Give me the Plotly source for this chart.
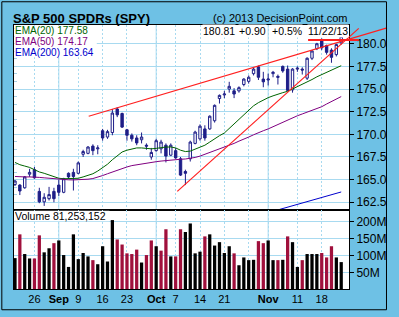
import plotly.graph_objects as go
from plotly.subplots import make_subplots

# ---------------- data ----------------
day_index = list(range(68))  # trading days 20 Aug 2013 .. 22 Nov 2013
opens = [164.45, 164.40, 164.10, 165.60, 166.10, 163.70, 162.55, 162.90, 163.70, 164.40,
         163.60, 165.70, 165.80, 165.70, 167.80, 167.90, 168.70, 168.40, 170.40, 169.70,
         170.20, 172.80, 172.30, 170.50, 169.90, 169.60, 169.40, 168.80, 167.50, 168.20,
         168.40, 168.80, 167.70, 168.20, 167.30, 165.90, 167.30, 169.00, 169.50, 170.60,
         170.60, 171.50, 173.95, 174.35, 175.00, 174.80, 174.80, 175.50, 175.85, 176.70,
         177.45, 176.10, 176.00, 176.70, 176.40, 177.50, 177.20, 174.90, 177.20, 177.20,
         176.20, 178.40, 179.45, 180.30, 179.80, 179.30, 178.80, 180.10]
highs = [165.00, 164.50, 165.40, 166.20, 166.40, 164.10, 163.50, 164.20, 164.10, 165.00,
         165.20, 165.80, 166.20, 167.00, 168.30, 168.70, 168.90, 168.80, 170.60, 170.50,
         172.80, 173.00, 172.40, 170.60, 170.10, 169.90, 170.20, 169.00, 168.50, 169.50,
         169.40, 169.00, 169.00, 168.50, 167.50, 166.10, 169.30, 170.40, 171.10, 171.00,
         172.10, 173.30, 174.40, 174.80, 175.80, 175.10, 175.30, 176.20, 176.50, 177.40,
         177.60, 176.90, 176.70, 177.00, 176.60, 177.60, 177.60, 177.30, 177.50, 177.40,
         178.50, 179.30, 180.10, 180.60, 179.90, 179.50, 180.00, 180.90]
lows = [164.30, 163.30, 164.00, 165.30, 165.10, 162.40, 162.10, 162.70, 162.50, 163.20,
        163.50, 165.10, 163.80, 165.60, 167.50, 167.80, 167.70, 167.80, 169.30, 169.50,
        169.90, 171.90, 170.70, 169.30, 169.20, 168.80, 169.00, 168.30, 167.20, 168.10,
        167.90, 166.90, 167.60, 167.30, 165.40, 164.40, 167.00, 168.90, 169.30, 169.30,
        170.50, 171.30, 173.40, 174.00, 174.60, 174.00, 174.60, 175.30, 175.60, 176.50,
        176.00, 175.20, 175.40, 176.30, 175.50, 176.80, 174.80, 174.60, 176.90, 176.60,
        176.00, 178.20, 179.30, 179.30, 178.80, 177.90, 178.60, 179.90]
closes = [164.85, 163.75, 165.30, 165.80, 165.20, 162.55, 163.05, 163.35, 162.90, 163.60,
          165.10, 165.30, 165.35, 166.85, 168.10, 168.60, 168.20, 168.50, 169.60, 170.30,
          172.35, 172.15, 170.80, 169.90, 169.50, 169.05, 169.70, 168.70, 168.00, 169.30,
          169.15, 167.60, 168.80, 167.40, 165.50, 165.70, 169.15, 170.25, 170.90, 169.60,
          172.00, 173.20, 174.30, 174.45, 175.30, 174.45, 175.15, 176.10, 176.30, 177.20,
          176.30, 175.80, 176.10, 176.85, 176.30, 177.00, 174.85, 177.20, 177.30, 177.10,
          178.40, 179.20, 180.00, 179.55, 179.05, 178.50, 179.91, 180.81]
prior_close = 164.30
volume_m = [93, 163, 105, 92, 92, 160, 110, 122, 137, 145,
            102, 67, 163, 90, 108, 98, 87, 75, 128, 83,
            205, 148, 133, 107, 105, 118, 80, 102, 145, 128,
            115, 178, 98, 98, 178, 170, 195, 107, 112, 157,
            163, 130, 140, 108, 128, 107, 72, 95, 87, 88,
            143, 137, 145, 87, 87, 88, 157, 140, 67, 87,
            105, 105, 105, 108, 95, 128, 95, 81.25]
ema20 = [166.90, 166.65, 166.50, 166.35, 166.10, 165.85, 165.70, 165.50, 165.30, 165.15,
         165.10, 165.10, 165.10, 165.15, 165.30, 165.45, 165.65, 165.95, 166.30, 166.70,
         167.20, 167.65, 168.05, 168.25, 168.40, 168.50, 168.50, 168.45, 168.40, 168.45,
         168.55, 168.60, 168.60, 168.50, 168.25, 168.10, 168.15, 168.35, 168.55, 168.80,
         169.15, 169.55, 169.85, 170.15, 170.65, 171.10, 171.60, 172.10, 172.60, 173.15,
         173.50, 173.80, 174.05, 174.25, 174.45, 174.60, 174.75, 175.00, 175.30, 175.55,
         175.80, 176.05, 176.35, 176.60, 176.85, 177.05, 177.35, 177.58]
ema50 = [165.35, 165.30, 165.30, 165.30, 165.30, 165.25, 165.20, 165.15, 165.05, 165.00,
         165.00, 164.98, 164.97, 164.97, 165.00, 165.05, 165.12, 165.25, 165.45, 165.65,
         165.85, 166.05, 166.25, 166.40, 166.55, 166.65, 166.75, 166.85, 166.90, 166.98,
         167.05, 167.12, 167.18, 167.22, 167.25, 167.28, 167.35, 167.45, 167.60, 167.80,
         167.95, 168.20, 168.40, 168.60, 168.80, 169.00, 169.25, 169.45, 169.70, 169.95,
         170.20, 170.40, 170.60, 170.85, 171.10, 171.35, 171.60, 171.85, 172.05, 172.25,
         172.45, 172.65, 172.85, 173.05, 173.35, 173.60, 173.90, 174.17]
ema200 = [None] * 50 + [161.05, 161.20, 161.36, 161.51, 161.66, 161.81, 161.95, 162.10, 162.26, 162.41,
                        162.56, 162.71, 162.87, 163.02, 163.17, 163.32, 163.48, 163.64]

x_tick_days = [4, 9, 13, 18, 23, 29, 33, 38, 43, 48, 52, 58, 63]
x_tick_text = ['26', '<b>Sep</b>', '9', '16', '23', '<b>Oct</b>', '7', '14', '21', '',
               '<b>Nov</b>', '11', '18']
month_start_days = [9, 29, 52]
price_ticks = [162.5, 165.0, 167.5, 170.0, 172.5, 175.0, 177.5, 180.0]
volume_ticks = [50, 100, 150, 200]
volume_tick_text = ['50M', '100M', '150M', '200M']
# analyst trend lines: (day index, price)
trend_upper = [(15.14, 172.00), (76.40, 181.75)]
trend_steep = [(33.34, 163.70), (70.60, 181.70)]
trend_flat = [(60.20, 180.42), (70.60, 180.42)]

# ---------------- style ----------------
BG = '#6EC1E5'
GRID = '#A8DAF0'
TICKC = '#A8D2E6'
NAVY = '#1E1E88'
RED_VOL = '#A0103C'
GREEN = '#006400'
PURPLE = '#800080'
BLUE = '#0000CC'
FONT = 'Liberation Sans, Arial, sans-serif'

X_RANGE = [-0.2, 68.6]
P_RANGE = [161.66, 182.07]
V_RANGE = [2, 235]
W, H = 399, 317
ML, MR, MT, MB = 14, 41, 25, 25
PW, PH = W - ML - MR, H - MT - MB
SPLIT = (292 - 212) / PH


def pxx(px):
    return (px - ML) / PW


def pxy(py):
    return (H - MB - py) / PH


def day_to_paper(d):
    return (d - X_RANGE[0]) / (X_RANGE[1] - X_RANGE[0])


fig = make_subplots(rows=2, cols=1, shared_xaxes=True, vertical_spacing=0)

fig.add_trace(go.Candlestick(
    x=day_index, open=opens, high=highs, low=lows, close=closes,
    increasing=dict(line=dict(color=NAVY, width=1), fillcolor='white'),
    decreasing=dict(line=dict(color=NAVY, width=1), fillcolor=NAVY),
    whiskerwidth=0, showlegend=False, hoverinfo='skip'), row=1, col=1)

fig.add_trace(go.Scatter(x=day_index, y=ema20, mode='lines',
                         line=dict(color=GREEN, width=1), showlegend=False), row=1, col=1)
fig.add_trace(go.Scatter(x=day_index, y=ema50, mode='lines',
                         line=dict(color=PURPLE, width=1), showlegend=False), row=1, col=1)
fig.add_trace(go.Scatter(x=day_index, y=ema200, mode='lines',
                         line=dict(color=BLUE, width=1), showlegend=False), row=1, col=1)

prev = [prior_close] + closes[:-1]
vol_colors = [RED_VOL if c < p else 'black' for c, p in zip(closes, prev)]
fig.add_trace(go.Bar(x=day_index, y=volume_m, marker=dict(color=vol_colors, line=dict(width=0)),
                     showlegend=False), row=2, col=1)

# helper trace for the left-side minor price ticks
fig.add_trace(go.Scatter(x=[None], y=[None], xaxis='x', yaxis='y3', showlegend=False))

axis_common = dict(showline=True, linecolor='black', linewidth=1, mirror=True,
                   range=X_RANGE, tickmode='array', tickvals=x_tick_days, ticktext=x_tick_text,
                   showgrid=True, gridcolor=GRID, griddash='2px,2px', gridwidth=1,
                   ticks='', zeroline=False,
                   tickfont=dict(family=FONT, size=11, color='black'))
fig.update_xaxes(**axis_common)
fig.update_xaxes(showticklabels=False, rangeslider=dict(visible=False), row=1, col=1)

fig.update_yaxes(domain=[SPLIT, 1], range=P_RANGE, side='right', tickmode='array',
                 tickvals=price_ticks, tickformat='.1f', ticks='outside', ticklen=4,
                 tickcolor='black', showgrid=True, gridcolor=GRID, gridwidth=1,
                 showline=True, linecolor='black', linewidth=1, mirror=True, zeroline=False,
                 tickfont=dict(family=FONT, size=12, color='black'), row=1, col=1)
fig.update_yaxes(domain=[0, SPLIT], range=V_RANGE, side='right', tickmode='array',
                 tickvals=volume_ticks, ticktext=volume_tick_text, ticks='outside', ticklen=4,
                 tickcolor='black', showgrid=True, gridcolor=GRID, gridwidth=1,
                 showline=True, linecolor='black', linewidth=1, mirror=True, zeroline=False,
                 tickfont=dict(family=FONT, size=12, color='black'), row=2, col=1)
fig.update_layout(yaxis3=dict(overlaying='y', anchor='x', side='left', range=P_RANGE,
                              showgrid=False, zeroline=False, showticklabels=False,
                              showline=False, tickmode='linear', tick0=price_ticks[0],
                              dtick=2.5 / 3, ticks='inside', ticklen=3, tickcolor=TICKC))

shapes = []
for d in month_start_days:
    for xr, yr in (('x', 'y domain'), ('x2', 'y2 domain')):
        shapes.append(dict(type='line', xref=xr, yref=yr, x0=d, x1=d, y0=0, y1=1,
                           line=dict(color=GRID, width=1), layer='below'))
for (d0, p0), (d1, p1), w in ((trend_upper[0], trend_upper[1], 1.2),
                              (trend_steep[0], trend_steep[1], 1.2),
                              (trend_flat[0], trend_flat[1], 2)):
    shapes.append(dict(type='line', xref='paper', yref='y', x0=day_to_paper(d0), x1=day_to_paper(d1),
                       y0=p0, y1=p1, line=dict(color='#FF2020', width=w), layer='above'))
# white panels behind the EMA legend and the volume caption
shapes.append(dict(type='rect', xref='paper', yref='paper', x0=pxx(14.5), x1=pxx(99),
                   y0=pxy(57.5), y1=pxy(25.8), fillcolor='white', line=dict(width=0),
                   layer='above'))
shapes.append(dict(type='rect', xref='paper', yref='paper', x0=pxx(14.5), x1=pxx(112),
                   y0=pxy(223.5), y1=pxy(212.8), fillcolor='white', line=dict(width=0),
                   layer='above'))
# outer frame
shapes.append(dict(type='rect', xref='paper', yref='paper', x0=pxx(1.5), x1=pxx(396.5),
                   y0=pxy(313), y1=pxy(1.5), line=dict(color='black', width=1)))

annotations = []


def note(text, px, py, size, color='black', anchor='left', bg=None):
    a = dict(text=text, xref='paper', yref='paper', x=pxx(px), y=pxy(py),
             xanchor=anchor, yanchor='middle', showarrow=False,
             font=dict(family=FONT, size=size, color=color), borderpad=0)
    if bg:
        a['bgcolor'] = bg
    annotations.append(a)


note('<b>S&P 500 SPDRs (SPY)</b>', 12, 18, 13)
note('(c) 2013 DecisionPoint.com', 358, 17.5, 11, anchor='right')
note('EMA(20) 177.58', 14.5, 31, 10, color=GREEN)
note('EMA(50) 174.17', 14.5, 42, 10, color=PURPLE)
note('EMA(200) 163.64', 14.5, 53, 10, color=BLUE)
note('180.81', 207.5, 31.5, 10.5, bg='white')
note('+0.90', 244.5, 31.5, 10.5, bg='white')
note('+0.5%', 277.5, 31.5, 10.5, bg='white')
note('11/22/13', 314.5, 31.5, 10.5, bg='white')
note('Volume 81,253,152', 14.5, 218, 10.5)

fig.update_layout(width=W, height=H, margin=dict(l=ML, r=MR, t=MT, b=MB),
                  paper_bgcolor=BG, plot_bgcolor='white', boxgap=0.3, bargap=0.33,
                  shapes=shapes, annotations=annotations, showlegend=False,
                  hovermode=False)

fig.write_html('out.html')
